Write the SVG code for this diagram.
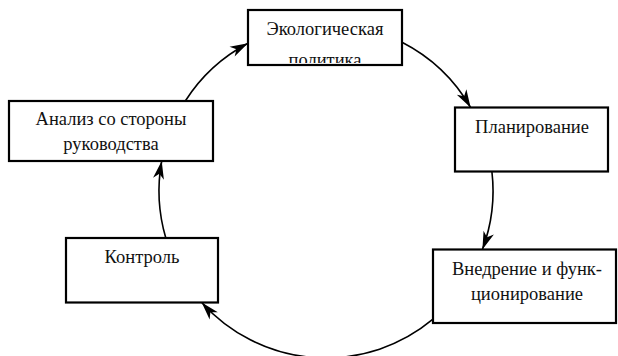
<svg xmlns="http://www.w3.org/2000/svg" width="618" height="356" viewBox="0 0 618 356">
<defs>
<marker id="ah" markerUnits="userSpaceOnUse" markerWidth="24" markerHeight="14" refX="20" refY="7" orient="auto" viewBox="0 0 24 14">
<path d="M20,7 L2,1.5 L7,7 L2,12.5 Z" fill="#000"/>
</marker>
<clipPath id="c1"><rect x="248" y="10" width="154" height="53"/></clipPath>
</defs>
<rect width="618" height="356" fill="#fff"/>
<g id="connectors" fill="none" stroke="#000" stroke-width="1.6" marker-end="url(#ah)">
<path d="M185.3,101 A167,167 0 0 1 248,43.3"/>
<path d="M402,42.3 A167,167 0 0 1 470.6,107.5"/>
<path d="M491.9,171.5 A167,167 0 0 1 482.4,249.5"/>
<path d="M433,319.2 A167,167 0 0 1 201.7,302.5"/>
<path d="M165.8,238 A167,167 0 0 1 161.7,161"/>
</g>
<g id="node1">
<rect x="248" y="10" width="154" height="55" fill="#fff" stroke="#000" stroke-width="2.2"/>
<g clip-path="url(#c1)">
<text x="325" y="35" font-family="Liberation Serif" font-size="18.5" fill="#111" text-anchor="middle">Экологическая</text>
<text x="325" y="66" font-family="Liberation Serif" font-size="18.5" fill="#111" text-anchor="middle">политика</text>
</g>
</g>
<g id="node2">
<rect x="9" y="101" width="204" height="60" fill="#fff" stroke="#000" stroke-width="2.2"/>
<text x="111" y="125" font-family="Liberation Serif" font-size="18.5" fill="#111" text-anchor="middle">Анализ со стороны</text>
<text x="111" y="150" font-family="Liberation Serif" font-size="18.5" fill="#111" text-anchor="middle">руководства</text>
</g>
<g id="node3">
<rect x="455" y="107.5" width="153" height="64" fill="#fff" stroke="#000" stroke-width="2.2"/>
<text x="532" y="133" font-family="Liberation Serif" font-size="18.5" fill="#111" text-anchor="middle">Планирование</text>
</g>
<g id="node4">
<rect x="66" y="238" width="152" height="64.5" fill="#fff" stroke="#000" stroke-width="2.2"/>
<text x="142" y="263" font-family="Liberation Serif" font-size="18.5" fill="#111" text-anchor="middle">Контроль</text>
</g>
<g id="node5">
<rect x="433" y="249.5" width="183" height="73.5" fill="#fff" stroke="#000" stroke-width="2.2"/>
<text x="527" y="275" font-family="Liberation Serif" font-size="18.5" fill="#111" text-anchor="middle">Внедрение и функ-</text>
<text x="527" y="300" font-family="Liberation Serif" font-size="18.5" fill="#111" text-anchor="middle">ционирование</text>
</g>
</svg>
